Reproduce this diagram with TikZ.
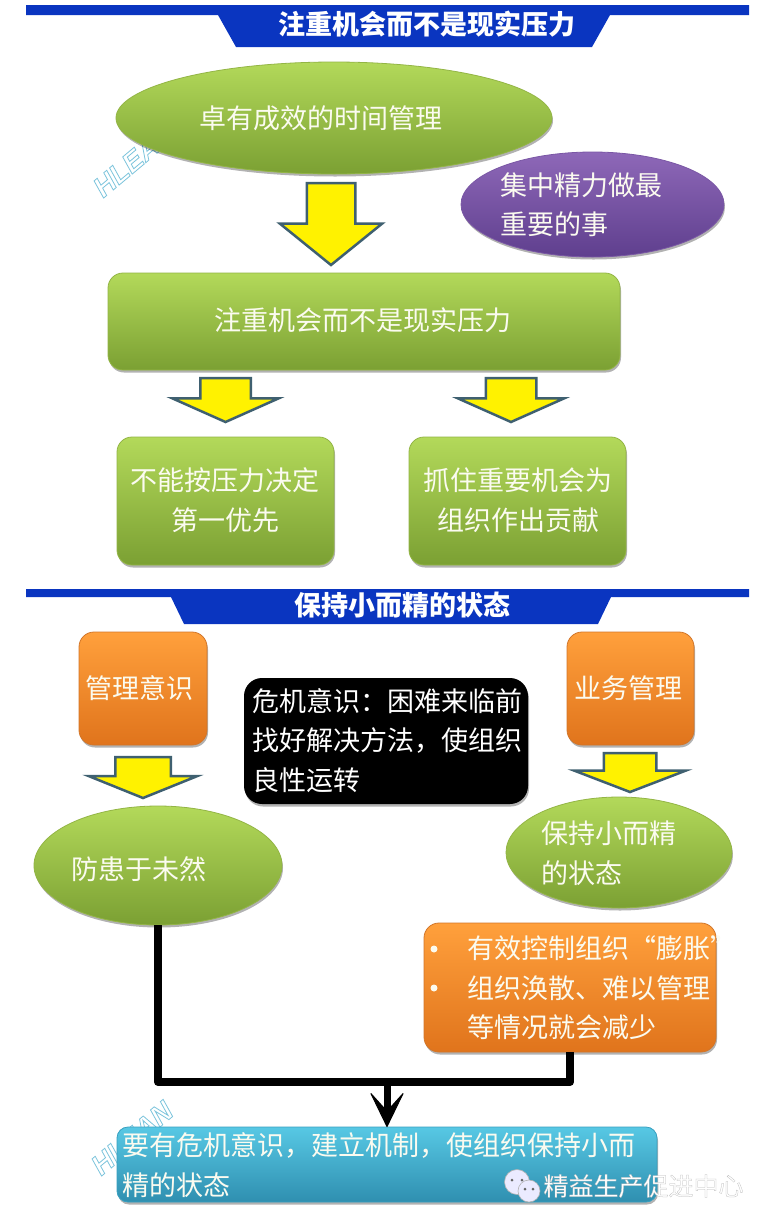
\documentclass[tikz,border=0pt]{standalone}
\usepackage{fontspec}
\setmainfont{Noto Sans CJK SC}
\newfontfamily\wmfont{Liberation Sans}
\usetikzlibrary{shapes.geometric,shapes.arrows,shadows,arrows.meta}
\newcommand{\outlined}[1]{\special{pdf:code 1 Tr 0.8 w}#1\special{pdf:code 0 Tr}}
\newcommand{\rimmed}[1]{\special{pdf:code 2 Tr 0.25 w 0.72 G}#1\special{pdf:code 0 Tr 1 w}}
\definecolor{barblue}{HTML}{0A35C0}
\definecolor{arrowedge}{HTML}{3F6070}
\definecolor{wmblue}{HTML}{7CC4DC}
\definecolor{gtop}{HTML}{B3D95A}
\definecolor{gbot}{HTML}{7BA033}
\definecolor{gedge}{HTML}{93B545}
\definecolor{otop}{HTML}{FFA03C}
\definecolor{obot}{HTML}{E0741C}
\definecolor{oedge}{HTML}{D2762A}
\definecolor{ptop}{HTML}{8E68B8}
\definecolor{pbot}{HTML}{5F3F8E}
\definecolor{pedge}{HTML}{7A57A5}
\definecolor{btop}{HTML}{57C8E4}
\definecolor{bbot}{HTML}{2F8FB0}
\definecolor{bedge}{HTML}{38A0C0}
\definecolor{txtwhite}{HTML}{FBFBF0}
\tikzset{
  sized/.style args={#1x#2}{minimum width=#1pt,minimum height=#2pt,inner sep=0pt,outer sep=0pt},
  softshadow/.style={drop shadow={shadow xshift=1pt,shadow yshift=-2.5pt,fill=black,opacity=.3}},
  greenfill/.style={top color=gtop,bottom color=gbot,draw=gedge,line width=.8pt,softshadow},
  orangefill/.style={top color=otop,bottom color=obot,draw=oedge,line width=.8pt,softshadow},
  greenell/.style={ellipse,greenfill},
  greenbox/.style={rectangle,rounded corners=15pt,greenfill},
  orangebox/.style={rectangle,rounded corners=15pt,orangefill},
  purpleell/.style={ellipse,top color=ptop,bottom color=pbot,draw=pedge,line width=.8pt,softshadow},
  blackbox/.style={rectangle,rounded corners=18pt,fill=black,softshadow},
  bluebox/.style={rectangle,rounded corners=11pt,top color=btop,bottom color=bbot,draw=bedge,line width=.8pt,softshadow},
  blockarrow/.style args={#1/#2/#3/#4}{single arrow,rotate=-90,anchor=tail,minimum height=#1pt,minimum width=#2pt,
     text height=#3pt,text depth=0pt,text width=0pt,inner sep=0pt,outer sep=0pt,single arrow tip angle=#4,
     single arrow head extend={(#2-#3)/2*1pt},single arrow head indent=0pt,fill=yellow,draw=arrowedge,line width=2.5pt,line join=miter},
  label/.style={text=txtwhite,font=\fontsize{27}{39.5}\selectfont,align=left,inner sep=0pt},
  title/.style={text=white,font=\fontsize{27}{30}\selectfont\bfseries,inner sep=0pt},
  barpart/.style={fill=barblue,draw=none},
  heavy/.style={draw=black,line width=8pt,line join=round},
  watermark/.style={text=wmblue,font=\wmfont\itshape\bfseries\fontsize{28}{28}\selectfont,inner sep=0pt,rotate=40},
  bubble/.style={circle,fill=white!92!blue,draw=gray!60,line width=.6pt,sized=#1x#1},
  eye/.style={circle,fill=gray!80!black,sized=3x3},
}
\begin{document}
\begin{tikzpicture}[x=1pt,y=-1pt]
\useasboundingbox[fill=white] (0,0) rectangle (767,1224);
% watermarks sit behind the shapes
\node[watermark] (wm1) at (134,160) {\outlined{HLEAN}};
\node[watermark] (wm2) at (132,1138) {\outlined{HLEAN}};
% title bars
\fill[barpart] (26,5) -- (749,5) -- (749,15) -- (610,15) -- (592,47) -- (236,47) -- (218,15) -- (26,15) -- cycle;
\node[title] (t1) at (427,24) {注重机会而不是现实压力};
\fill[barpart] (26,589) -- (749,589) -- (749,597) -- (611,597) -- (598,624) -- (184,624) -- (171,597) -- (26,597) -- cycle;
\node[title] (t2) at (402,605) {保持小而精的状态};
% upper section
\node[greenell,sized=436x112] (e1) at (334,118) {};
\node[label] (e1t) at (321,118) {卓有成效的时间管理};
\node[purpleell,sized=263x105] (ep) at (592.5,204.5) {};
\node[label,anchor=west] (ept) at (500,204.5) {集中精力做最\\重要的事};
\node[blockarrow=82/100/46/102] (a1) at (331,183) {};
\node[greenbox,sized=512x97] (g1) at (364,321.5) {};
\node[label] (g1t) at (363,320) {注重机会而不是现实压力};
\node[blockarrow=44/104/48/132] (a2) at (225.5,378) {};
\node[blockarrow=44/104/48/132] (a3) at (511,378) {};
\node[greenbox,sized=217x128] (gl) at (225.5,501) {};
\node[label,align=center] (glt) at (225,500) {不能按压力决定\\第一优先};
\node[greenbox,sized=217x128] (gr) at (517.5,501) {};
\node[label,align=center] (grt) at (518,500) {抓住重要机会为\\组织作出贡献};
% lower section
\node[orangebox,sized=128x113] (o1) at (143,688.5) {};
\node[label] (o1t) at (139,688) {管理意识};
\node[orangebox,sized=127x113] (o2) at (630.5,688.5) {};
\node[label] (o2t) at (628,688) {业务管理};
\node[blackbox,sized=284x126] (bk) at (386,741) {};
\node[label,anchor=west,text=white] (bkt) at (252,740.5) {危机意识：困难来临前\\找好解决方法，使组织\\良性运转};
\node[blockarrow=41/106/53/136] (a4) at (143,757) {};
\node[blockarrow=39/109/50/138] (a5) at (630,753) {};
\node[greenell,sized=248x119] (el) at (158,865.5) {};
\node[label] (elt) at (139,869) {防患于未然};
\node[greenell,sized=226x111] (er) at (619,852.5) {};
\node[label,anchor=west] (ert) at (541,853) {保持小而精\\的状态};
\node[orangebox,sized=292x129] (ob) at (570,987.5) {};
\node[label,anchor=west] (obt) at (467,988) {有效控制组织“膨胀”\\组织涣散、难以管理\\等情况就会减少};
\node[circle,fill=txtwhite,sized=7x7] (d1) at (434,949) {};
\node[circle,fill=txtwhite,sized=7x7] (d2) at (434,988) {};
\node[bluebox,sized=540x75] (bl) at (387,1164.5) {};
\node[label,anchor=west] (blt) at (122,1165) {要有危机意识，建立机制，使组织保持小而\\精的状态};
% connectors
\coordinate (jn) at (387,1082);
\draw[heavy] (el.south) |- (jn) -| (ob.south);
\draw[draw=black,line width=7pt,-{Stealth[length=37pt,width=36pt,inset=20pt,round,line width=1pt]}] (jn) -- (jn |- bl.north);
% mark
\node[bubble=25] (b1) at (517,1182) {};
\node[eye] (b1a) at (512,1180) {};
\node[eye] (b1b) at (522,1180) {};
\node[bubble=22] (b2) at (529,1191) {};
\node[eye] (b2a) at (525,1189) {};
\node[eye] (b2b) at (533,1189) {};
\node[text=white,font=\fontsize{25}{30}\selectfont,inner sep=0pt] (mk) at (643.5,1186) {\rimmed{精益生产促进中心}};
\end{tikzpicture}
\end{document}
